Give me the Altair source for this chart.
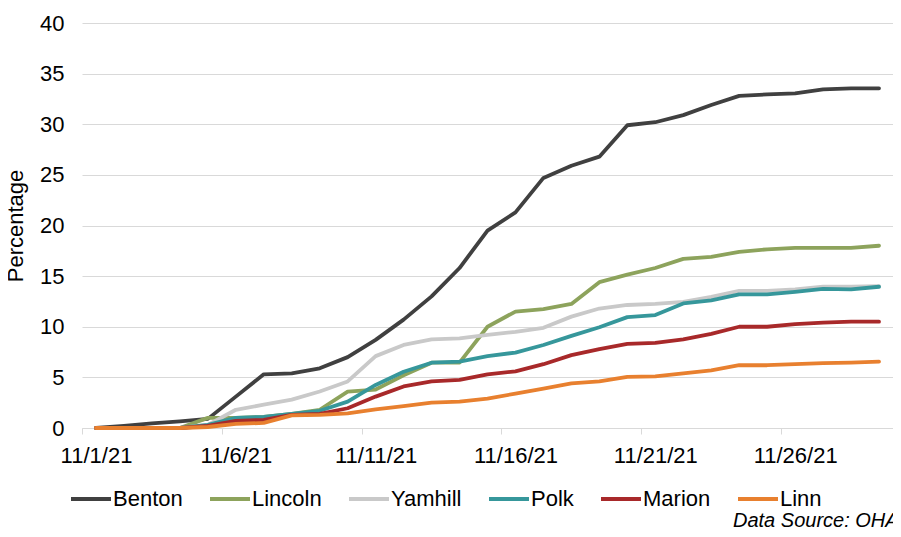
import altair as alt
import pandas as pd

# Categories: days of November 2021 (11/1/21 .. 11/29/21)
day_index = list(range(1, 30))
tick_days = [0.5, 5.5, 10.5, 15.5, 20.5, 25.5]
y_ticks = [0, 5, 10, 15, 20, 25, 30, 35, 40]

counties = ["Benton", "Lincoln", "Yamhill", "Polk", "Marion", "Linn"]
colors = ["#404040", "#8da35c", "#c9c9c9", "#36979b", "#a8292a", "#e8802f"]

benton = [0, 0.2, 0.45, 0.65, 0.9, 3.1, 5.3, 5.4, 5.9, 7.0, 8.7, 10.7, 13.0, 15.8, 19.5,
          21.3, 24.7, 25.9, 26.8, 29.9, 30.2, 30.9, 31.9, 32.8, 32.95, 33.05, 33.45, 33.55, 33.55]
lincoln = [0, 0, 0, 0, 1.0, 1.0, 1.1, 1.4, 1.8, 3.6, 3.8, 5.2, 6.45, 6.45, 10.0,
           11.5, 11.75, 12.25, 14.4, 15.15, 15.8, 16.7, 16.9, 17.4, 17.65, 17.8, 17.8, 17.8, 18.0]
yamhill = [0, 0, 0, 0, 0.3, 1.8, 2.3, 2.8, 3.6, 4.6, 7.1, 8.2, 8.75, 8.85, 9.2,
           9.5, 9.9, 11.0, 11.8, 12.15, 12.25, 12.45, 12.95, 13.55, 13.55, 13.7, 13.95, 13.95, 14.0]
polk = [0, 0, 0, 0, 0.3, 1.0, 1.1, 1.4, 1.7, 2.6, 4.25, 5.55, 6.45, 6.55, 7.1,
        7.45, 8.2, 9.1, 9.95, 10.95, 11.15, 12.3, 12.6, 13.2, 13.2, 13.45, 13.75, 13.7, 13.95]
marion = [0, 0, 0, 0, 0.2, 0.7, 0.8, 1.3, 1.4, 1.95, 3.1, 4.1, 4.6, 4.75, 5.3,
          5.6, 6.3, 7.2, 7.8, 8.3, 8.4, 8.75, 9.3, 10.0, 10.0, 10.25, 10.4, 10.5, 10.5]
linn = [0, 0, 0, 0, 0.1, 0.4, 0.5, 1.25, 1.3, 1.45, 1.85, 2.15, 2.5, 2.6, 2.9,
        3.4, 3.9, 4.4, 4.6, 5.05, 5.1, 5.4, 5.7, 6.2, 6.2, 6.3, 6.4, 6.45, 6.55]

series = [benton, lincoln, yamhill, polk, marion, linn]
rows = []
for name, vals in zip(counties, series):
    for d, v in zip(day_index, vals):
        rows.append({"Day": d, "County": name, "Percentage": v})
df = pd.DataFrame(rows)

FONT = "Liberation Sans"
FS = 22

lines = alt.Chart(df).mark_line(strokeWidth=3.8, strokeJoin="round", strokeCap="round").encode(
    x=alt.X(
        "Day:Q",
        scale=alt.Scale(domain=[0.5, 29.5], nice=False, zero=False),
        axis=alt.Axis(
            values=tick_days,
            labelExpr="'11/' + (datum.value + 0.5) + '/21'",
            labelOffset=14,
            labelFlush=False,
            labelOverlap=False,
            grid=False,
            domainColor="#d9d9d9",
            tickColor="#d9d9d9",
            tickSize=6,
            labelPadding=11,
            labelFontSize=FS,
            labelFont=FONT,
            labelColor="black",
            title=None,
        ),
    ),
    y=alt.Y(
        "Percentage:Q",
        scale=alt.Scale(domain=[0, 40], nice=False),
        axis=alt.Axis(
            values=y_ticks,
            grid=True,
            gridColor="#d9d9d9",
            domain=False,
            ticks=False,
            tickSize=0,
            labelPadding=18,
            labelFontSize=FS,
            labelFont=FONT,
            labelColor="black",
            title="Percentage",
            titleFont=FONT,
            titleFontSize=FS,
            titleFontWeight="normal",
            titleColor="black",
            titleX=-55,
            titleY=202.5,
        ),
    ),
    color=alt.Color(
        "County:N",
        scale=alt.Scale(domain=counties, range=colors),
        legend=alt.Legend(
            orient="none",
            legendX=-13,
            legendY=454,
            direction="horizontal",
            columns=6,
            symbolType="stroke",
            symbolSize=1600,
            symbolStrokeWidth=4,
            labelFontSize=FS,
            labelFont=FONT,
            labelColor="black",
            labelOffset=0,
            columnPadding=19,
            padding=0,
            title=None,
        ),
    ),
)

source = alt.Chart(pd.DataFrame({"t": ["Data Source: OHA"]})).mark_text(
    align="left", baseline="alphabetic", fontStyle="italic", fontSize=20, font=FONT, color="black"
).encode(text="t:N", x=alt.value(651), y=alt.value(504))

chart = alt.layer(lines, source).properties(
    width=811,
    height=405,
    padding={"left": 74, "top": 15, "right": 0, "bottom": 101},
    autosize=alt.AutoSizeParams(type="none"),
).configure_view(stroke=None)

chart.save("out.html", embed_options={"renderer": "svg", "actions": False})
